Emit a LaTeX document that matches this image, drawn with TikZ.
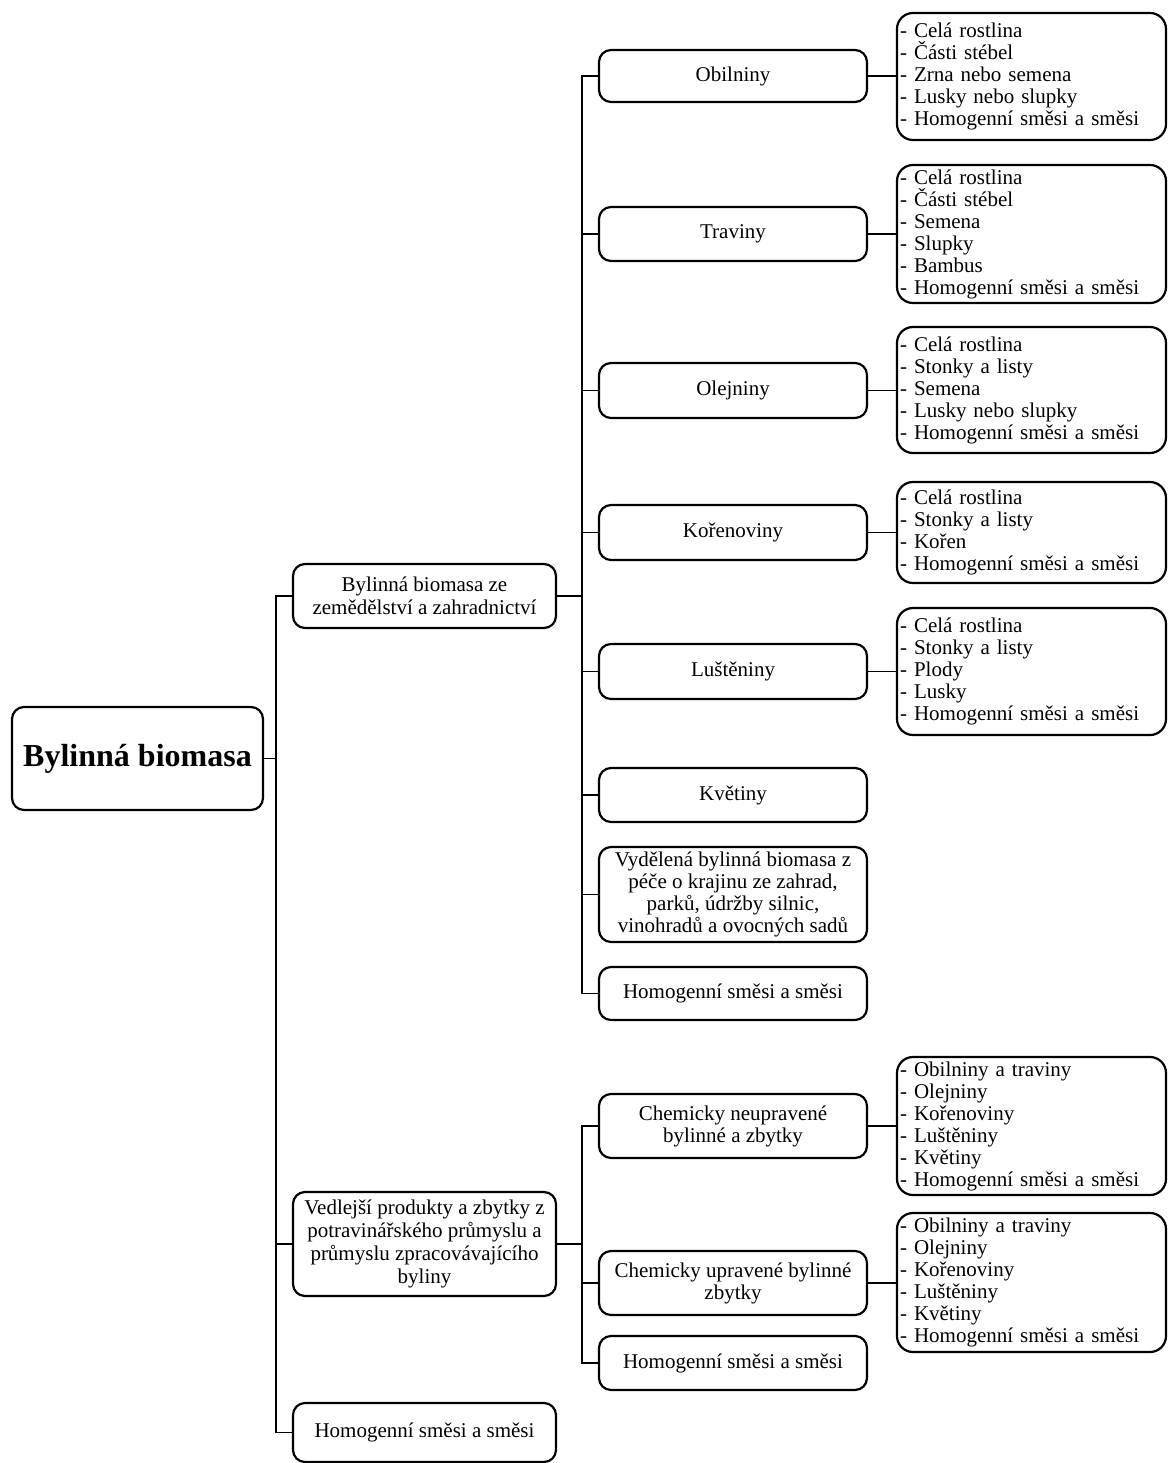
\documentclass[tikz,border=0pt]{standalone}
\usepackage{fontspec}
\setmainfont{Liberation Serif}
\begin{document}
\begin{tikzpicture}[x=1pt,y=-1pt,
  box/.style={draw, line width=2.2pt, rounded corners=12pt, align=center, inner sep=2pt,
    font=\fontsize{21}{23}\selectfont},
  midbox/.style={box, minimum width=268pt, font=\fontsize{21}{22}\selectfont},
  topbox/.style={box, minimum width=263pt},
  leaf/.style={draw, line width=2.2pt, rounded corners=16pt, align=left, text width=263pt,
    inner xsep=3pt, inner ysep=2pt, minimum width=269pt, font=\fontsize{21}{22}\selectfont},
  conn/.style={line width=1.3pt}]
\useasboundingbox (0,0) rectangle (1168,1463);

% root
\node[box, minimum width=251pt, minimum height=103pt, font=\bfseries\fontsize{32}{34}\selectfont] (root) at (137.5,758.5) {Bylinná biomasa};

% level 1
\node[topbox, minimum height=64pt] (A) at (424.5,596) {Bylinná biomasa ze\\zemědělství a zahradnictví};
\node[topbox, minimum height=104pt] (B) at (424.5,1244) {Vedlejší produkty a zbytky z\\potravinářského průmyslu a\\průmyslu zpracovávajícího\\byliny};
\node[topbox, minimum height=59pt] (C) at (424.5,1432.5) {Homogenní směsi a směsi};

% level 2 (upper)
\node[midbox, minimum height=52pt] (obil) at (733,76) {Obilniny};
\node[midbox, minimum height=54pt] (trav) at (733,234) {Traviny};
\node[midbox, minimum height=55pt] (olej) at (733,390.5) {Olejniny};
\node[midbox, minimum height=55pt] (kor) at (733,532.5) {Kořenoviny};
\node[midbox, minimum height=55pt] (lus) at (733,671.5) {Luštěniny};
\node[midbox, minimum height=54pt] (kvet) at (733,795) {Květiny};
\node[midbox, minimum height=95pt] (vyd) at (733,894.5) {Vydělená bylinná biomasa z\\péče o krajinu ze zahrad,\\parků, údržby silnic,\\vinohradů a ovocných sadů};
\node[midbox, minimum height=53pt] (homa) at (733,993.5) {Homogenní směsi a směsi};

% level 2 (lower)
\node[midbox, minimum height=64pt] (chn) at (733,1126) {Chemicky neupravené\\bylinné a zbytky};
\node[midbox, minimum height=64pt] (chu) at (733,1283) {Chemicky upravené bylinné\\zbytky};
\node[midbox, minimum height=54pt] (homb) at (733,1363) {Homogenní směsi a směsi};

% leaves
\node[leaf, minimum height=127pt] (lobil) at (1031.5,76.5) {- Celá rostlina\\- Části stébel\\- Zrna nebo semena\\- Lusky nebo slupky\\- Homogenní směsi a směsi};
\node[leaf, minimum height=138pt] (ltrav) at (1031.5,234) {- Celá rostlina\\- Části stébel\\- Semena\\- Slupky\\- Bambus\\- Homogenní směsi a směsi};
\node[leaf, minimum height=126pt] (lolej) at (1031.5,390) {- Celá rostlina\\- Stonky a listy\\- Semena\\- Lusky nebo slupky\\- Homogenní směsi a směsi};
\node[leaf, minimum height=101pt] (lkor) at (1031.5,532.5) {- Celá rostlina\\- Stonky a listy\\- Kořen\\- Homogenní směsi a směsi};
\node[leaf, minimum height=127pt] (llus) at (1031.5,671.5) {- Celá rostlina\\- Stonky a listy\\- Plody\\- Lusky\\- Homogenní směsi a směsi};
\node[leaf, minimum height=138pt] (lchn) at (1031.5,1126) {- Obilniny a traviny\\- Olejniny\\- Kořenoviny\\- Luštěniny\\- Květiny\\- Homogenní směsi a směsi};
\node[leaf, minimum height=139pt] (lchu) at (1031.5,1282.5) {- Obilniny a traviny\\- Olejniny\\- Kořenoviny\\- Luštěniny\\- Květiny\\- Homogenní směsi a směsi};

% junctions
\coordinate (j1) at (276,758.5);
\coordinate (j2) at (582,596);
\coordinate (j3) at (582,1244);

% connectors level 0-1
\draw[conn] (root.east) -- (j1);
\draw[conn] (A.west) -| (j1);
\draw[conn] (B.west) -| (j1);
\draw[conn] (C.west) -| (j1);

% connectors level 1-2
\draw[conn] (A.east) -- (j2);
\foreach \n in {obil,trav,olej,kor,lus,kvet,vyd,homa} {
  \draw[conn] (\n.west) -| (j2);
}
\draw[conn] (B.east) -- (j3);
\foreach \n in {chn,chu,homb} {
  \draw[conn] (\n.west) -| (j3);
}

% connectors level 2-3
\draw[conn] (obil.east) -- (obil.east -| lobil.west);
\draw[conn] (trav.east) -- (trav.east -| ltrav.west);
\draw[conn] (olej.east) -- (olej.east -| lolej.west);
\draw[conn] (kor.east) -- (kor.east -| lkor.west);
\draw[conn] (lus.east) -- (lus.east -| llus.west);
\draw[conn] (chn.east) -- (chn.east -| lchn.west);
\draw[conn] (chu.east) -- (chu.east -| lchu.west);
\end{tikzpicture}
\end{document}
